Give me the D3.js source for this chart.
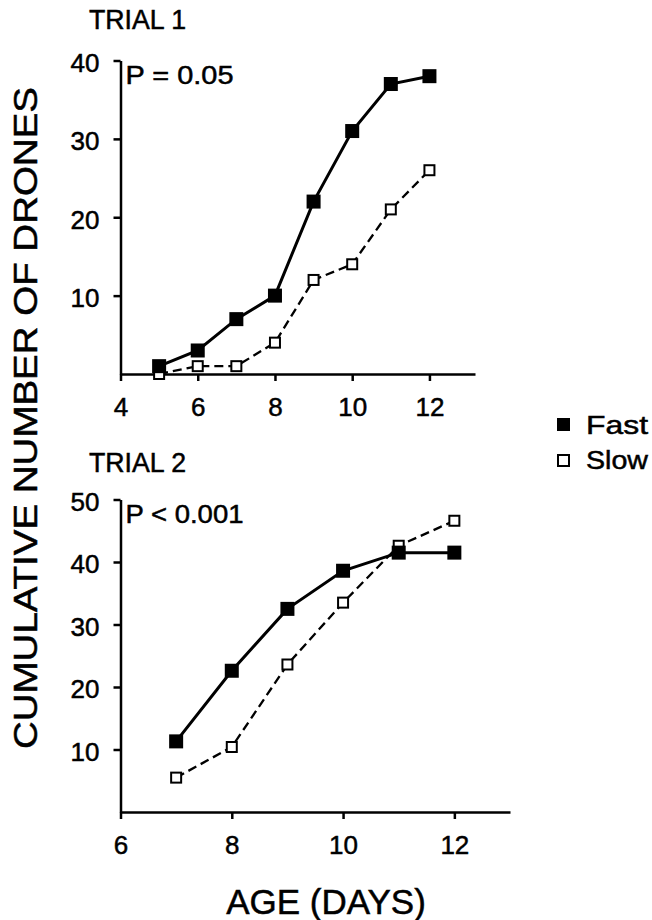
<!DOCTYPE html>
<html>
<head>
<meta charset="utf-8">
<script src="https://cdn.jsdelivr.net/npm/d3@7"></script>
<style>
  body { margin: 0; background: #fff; }
  svg text { font-family: "Liberation Sans", Arial, Helvetica, sans-serif; fill: #000; stroke: #000; stroke-width: 0.5px; }
</style>
</head>
<body>
<svg id="chart" width="652" height="920"></svg>
<script>
// Trial 1
const days1 = [5, 6, 7, 8, 9, 10, 11, 12]
const fast1 = [1, 3, 7, 10, 22, 31, 37, 38]
const slow1 = [0, 1, 1, 4, 12, 14, 21, 26]
const xTicks1 = [4, 6, 8, 10, 12]
const yTicks1 = [10, 20, 30, 40]

// Trial 2
const days2 = [7, 8, 9, 10, 11, 12]
const fast2 = [11.3, 22.6, 32.5, 38.6, 41.5, 41.5]
const slow2 = [5.5, 10.4, 23.6, 33.5, 42.6, 46.6]
const xTicks2 = [6, 8, 10, 12]
const yTicks2 = [10, 20, 30, 40, 50]

const svg = d3.select('#chart')

function Panel(opts) {
  const x = d3.scaleLinear().domain(opts.xDomain).range(opts.xRange)
  const y = d3.scaleLinear().domain(opts.yDomain).range(opts.yRange)
  const g = svg.append('g')

  // axes
  const xAxis = d3.axisBottom(x).tickValues(opts.xTicks).tickFormat(d3.format('d'))
    .tickSizeInner(7).tickSizeOuter(0).tickPadding(17)
  const yAxis = d3.axisLeft(y).tickValues(opts.yTicks).tickFormat(d3.format('d'))
    .tickSizeInner(7).tickSizeOuter(0).tickPadding(14)

  const gx = g.append('g')
    .attr('transform', `translate(0, ${opts.yRange[0]})`)
    .call(xAxis)
  const gy = g.append('g')
    .attr('transform', `translate(${opts.xRange[0]}, 0)`)
    .call(yAxis)

  for (const a of [gx, gy]) {
    a.attr('font-size', null).attr('font-family', null)
    a.select('.domain').attr('stroke', '#000').attr('stroke-width', 2.5)
    a.selectAll('.tick line').attr('stroke', '#000').attr('stroke-width', 2.5)
    a.selectAll('.tick text')
      .style('font-size', '26px')
  }
  gy.selectAll('.tick text').attr('dy', '0.42em')

  const pts = (days, vals) => days.map((d, i) => [d, vals[i]])
  const line = d3.line().x(d => x(d[0])).y(d => y(d[1]))

  // slow (dashed)
  const slow = pts(opts.days, opts.slow)
  g.append('path')
    .datum(slow)
    .attr('d', line)
    .attr('fill', 'none')
    .attr('stroke', '#000')
    .attr('stroke-width', 2.3)
    .attr('stroke-dasharray', '9,5')

  // fast (solid)
  const fast = pts(opts.days, opts.fast)
  g.append('path')
    .datum(fast)
    .attr('d', line)
    .attr('fill', 'none')
    .attr('stroke', '#000')
    .attr('stroke-width', 3)

  g.selectAll('rect.slow')
    .data(slow)
    .enter()
    .append('rect')
      .attr('class', 'slow')
      .attr('x', d => x(d[0]) - 5)
      .attr('y', d => y(d[1]) - 5)
      .attr('width', 10)
      .attr('height', 10)
      .attr('fill', '#fff')
      .attr('stroke', '#000')
      .attr('stroke-width', 2)

  g.selectAll('rect.fast')
    .data(fast)
    .enter()
    .append('rect')
      .attr('class', 'fast')
      .attr('x', d => x(d[0]) - 7)
      .attr('y', d => y(d[1]) - 7)
      .attr('width', 14)
      .attr('height', 14)
      .attr('fill', '#000')

  // panel title and P value
  svg.append('text')
    .text(opts.title)
    .attr('x', 89)
    .attr('y', opts.titleY)
    .style('font-size', '27px')
    .attr('textLength', 97)
    .attr('lengthAdjust', 'spacingAndGlyphs')

  svg.append('text')
    .text(opts.pText)
    .attr('x', opts.xRange[0] + 5)
    .attr('y', opts.yRange[1] + 23)
    .style('font-size', '26px')
    .attr('textLength', opts.pLength)
    .attr('lengthAdjust', 'spacingAndGlyphs')
}

Panel({
  days: days1, fast: fast1, slow: slow1,
  xDomain: [4, 13.18], xRange: [120.5, 475],
  yDomain: [0, 40], yRange: [374, 60.5],
  xTicks: xTicks1, yTicks: yTicks1,
  title: 'TRIAL 1', titleY: 29,
  pText: 'P = 0.05', pLength: 108
})

Panel({
  days: days2, fast: fast2, slow: slow2,
  xDomain: [6, 13], xRange: [120.5, 510],
  yDomain: [0, 50], yRange: [812, 499.5],
  xTicks: xTicks2, yTicks: yTicks2,
  title: 'TRIAL 2', titleY: 472,
  pText: 'P < 0.001', pLength: 118
})

// axis titles
svg.append('text')
  .text('CUMULATIVE NUMBER OF DRONES')
  .attr('transform', 'translate(37, 418) rotate(-90)')
  .attr('text-anchor', 'middle')
  .style('font-size', '33px')
  .attr('textLength', 662)
  .attr('lengthAdjust', 'spacingAndGlyphs')

svg.append('text')
  .text('AGE (DAYS)')
  .attr('x', 326)
  .attr('y', 914)
  .attr('text-anchor', 'middle')
  .style('font-size', '35px')

// legend
const legend = svg.append('g')
legend.append('rect')
  .attr('x', 557).attr('y', 418).attr('width', 13).attr('height', 13)
  .attr('fill', '#000')
legend.append('text')
  .text('Fast')
  .attr('x', 586).attr('y', 434)
  .style('font-size', '26px')
  .attr('textLength', 62)
  .attr('lengthAdjust', 'spacingAndGlyphs')
legend.append('rect')
  .attr('x', 558).attr('y', 455).attr('width', 11).attr('height', 11)
  .attr('fill', '#fff').attr('stroke', '#000').attr('stroke-width', 2)
legend.append('text')
  .text('Slow')
  .attr('x', 586).attr('y', 469)
  .style('font-size', '26px')
  .attr('textLength', 62)
  .attr('lengthAdjust', 'spacingAndGlyphs')
</script>
</body>
</html>
